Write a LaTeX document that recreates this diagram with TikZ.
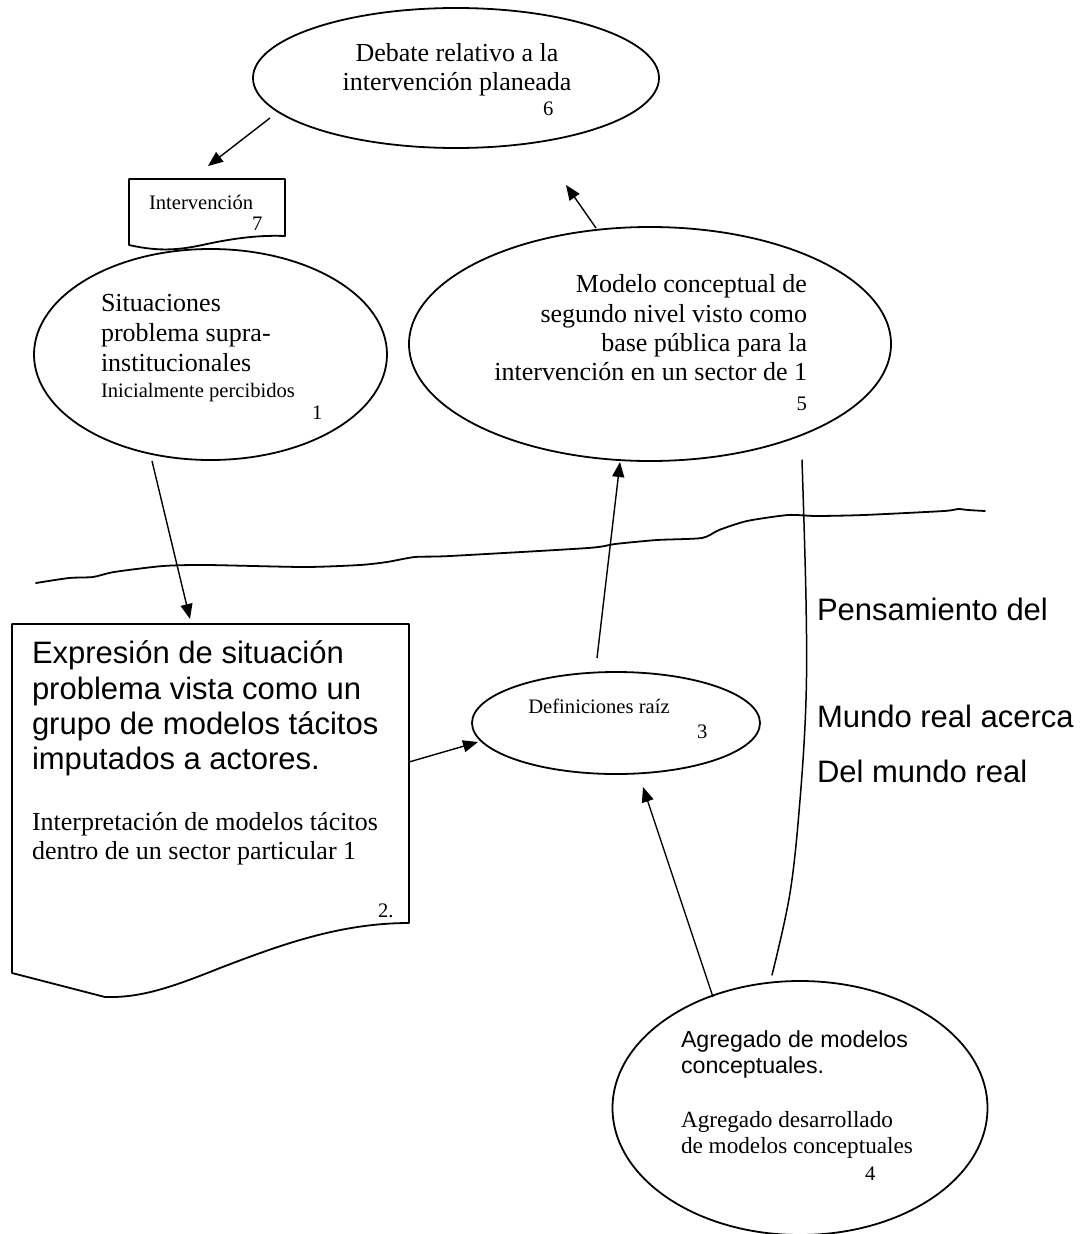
\documentclass[tikz,border=0pt]{standalone}
\usepackage{fontspec}
\setmainfont{Liberation Serif}
\newfontfamily\arialf{Liberation Sans}
\usetikzlibrary{arrows.meta,shapes.geometric}
\begin{document}
\begin{tikzpicture}[x=1pt,y=-1pt,
  outline/.style={draw, line width=1.8pt, line join=round},
  oval/.style={draw, ellipse, line width=1.8pt, inner sep=0pt},
  conn/.style={line width=1.4pt, -{Triangle[length=15pt,width=12pt]}},
  plainline/.style={line width=1.5pt, line cap=round},
  txt/.style={inner sep=0pt, outer sep=0pt, anchor=base west},
  ctxt/.style={inner sep=0pt, outer sep=0pt, anchor=base},
  rtxt/.style={inner sep=0pt, outer sep=0pt, anchor=base east},
  serifbig/.style={font=\fontsize{26}{30}\selectfont},
  serifmid/.style={font=\fontsize{23.2}{26}\selectfont},
  serifsmall/.style={font=\fontsize{20.6}{24}\selectfont},
  sansbig/.style={font=\arialf\fontsize{31}{35}\selectfont},
  sansmid/.style={font=\arialf\fontsize{23.2}{26}\selectfont}
]
\useasboundingbox (0,0) rectangle (1079,1234);

% ---------- ellipses ----------
\node[oval, minimum width=406pt, minimum height=140pt] (e6) at (456,78) {};
\node[oval, minimum width=353pt, minimum height=211pt] (e1) at (210.5,354.5) {};
\node[oval, minimum width=482pt, minimum height=234pt] (e5) at (650,344) {};
\node[oval, minimum width=288pt, minimum height=102pt] (e3) at (616,723) {};
\node[oval, minimum width=375pt, minimum height=254pt] (e4) at (800,1108) {};

% ---------- document shapes ----------
\draw[outline] (129,179) -- (285,179) -- (285,236)
  .. controls (260,235) and (235,238) .. (207,244)
  .. controls (180,250) and (160,252) .. (129,245) -- cycle;
\draw[outline] (12,624) -- (409,624) -- (409,923)
  .. controls (340,923) and (280,945) .. (220,968)
  .. controls (170,988) and (140,998) .. (105,997) -- (12,973) -- cycle;

% ---------- texts ----------
\node[ctxt, serifbig] (t6a) at (457,61) {Debate relativo a la};
\node[ctxt, serifbig] (t6b) at (457,90) {intervención planeada};
\node[txt, serifsmall] (t6n) at (543,115) {6};

\node[txt, serifsmall] (t7a) at (149,209) {Intervención};
\node[txt, serifsmall] (t7n) at (252,230) {7};

\node[txt, serifbig] (t1a) at (101,311) {Situaciones};
\node[txt, serifbig] (t1b) at (101,341) {problema supra-};
\node[txt, serifbig] (t1c) at (101,371) {institucionales};
\node[txt, serifsmall] (t1d) at (101,397) {Inicialmente percibidos};
\node[txt, serifsmall] (t1n) at (312,419) {1};

\node[rtxt, serifbig] (t5a) at (807,292) {Modelo conceptual de};
\node[rtxt, serifbig] (t5b) at (807,322) {segundo nivel visto como};
\node[rtxt, serifbig] (t5c) at (807,351) {base pública para la};
\node[rtxt, serifbig] (t5d) at (807,380) {intervención en un sector de 1};
\node[rtxt, serifsmall] (t5n) at (807,410) {5};

\node[ctxt, serifsmall] (t3a) at (599,713) {Definiciones raíz};
\node[txt, serifsmall] (t3n) at (697,738) {3};

\node[txt, sansbig] (t2a) at (32,663) {Expresión de situación};
\node[txt, sansbig] (t2b) at (32,699) {problema vista como un};
\node[txt, sansbig] (t2c) at (32,734) {grupo de modelos tácitos};
\node[txt, sansbig] (t2d) at (32,769) {imputados a actores.};
\node[txt, serifbig] (t2e) at (32,830) {Interpretación de modelos tácitos};
\node[txt, serifbig] (t2f) at (32,859) {dentro de un sector particular 1};
\node[txt, serifsmall] (t2n) at (378,917) {2.};

\node[txt, sansmid] (t4a) at (681,1047) {Agregado de modelos};
\node[txt, sansmid] (t4b) at (681,1073) {conceptuales.};
\node[txt, serifmid] (t4c) at (681,1127) {Agregado desarrollado};
\node[txt, serifmid] (t4d) at (681,1153) {de modelos conceptuales};
\node[txt, serifsmall] (t4n) at (865,1180) {4};

\node[txt, sansbig] (r1) at (817,620) {Pensamiento del};
\node[txt, sansbig] (r2) at (817,727) {Mundo real acerca};
\node[txt, sansbig] (r3) at (817,782) {Del mundo real};

% ---------- connector end points ----------
\coordinate (a76) at (270,118);  \coordinate (a7t) at (208,166);
\coordinate (a56) at (596,228);  \coordinate (a5t) at (566,185);
\coordinate (a12) at (152,461);  \coordinate (a2t) at (190,619);
\coordinate (a23) at (409,762);  \coordinate (a3t) at (478,742);
\coordinate (a35) at (597,658);  \coordinate (a5b) at (620,462);
\coordinate (a43) at (713,997);  \coordinate (a3b) at (643,787);

\draw[conn] (a76) -- (a7t);
\draw[conn] (a56) -- (a5t);
\draw[conn] (a12) -- (a2t);
\draw[conn] (a23) -- (a3t);
\draw[conn] (a35) -- (a5b);
\draw[conn] (a43) -- (a3b);

% ---------- boundary lines ----------
\draw[plainline] plot[smooth, tension=0.6] coordinates
  {(802,460) (806,600) (806,700) (800,800) (790,893) (772,975)};
\draw[line width=1.8pt, line cap=round] plot[smooth, tension=0.4] coordinates
  {(36,583) (69,578) (93,577) (114,572) (163,566) (207,565) (304,567)
   (360,565) (387,562) (415,557) (450,556) (588,548) (615,544) (657,540)
   (702,538) (719,530) (747,521) (788,515) (816,516) (864,515) (944,511)
   (958,509) (968,510) (985,511)};
\end{tikzpicture}
\end{document}
